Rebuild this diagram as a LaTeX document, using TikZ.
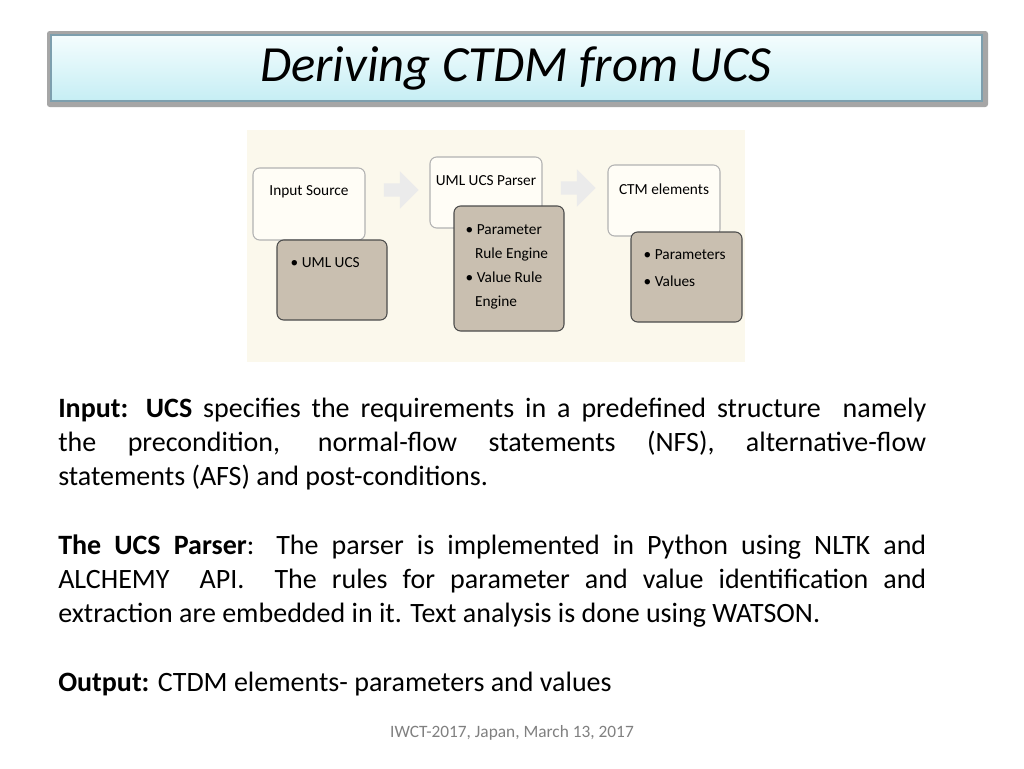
\documentclass[tikz,border=0pt]{standalone}
\usepackage{fontspec}
\setmainfont{Carlito}
\usetikzlibrary{shapes.arrows}
\definecolor{panel}{HTML}{FBF8EC}
\definecolor{topbox}{HTML}{FFFDF6}
\definecolor{subbox}{HTML}{C9BFB0}
\definecolor{titletop}{HTML}{F4FDFE}
\definecolor{titlebot}{HTML}{C6EEF4}
\begin{document}
\begin{tikzpicture}[x=0.75pt,y=-0.75pt]
    \tikzset{style={align=left}};
    \tikzset{upper/.style={draw=gray!60,fill=topbox,rounded corners=5pt,line width=0.8pt}};
    \tikzset{lower/.style={draw=black!70,fill=subbox,rounded corners=5pt,line width=0.8pt}};
    \tikzset{flow/.style={single arrow,fill=black!8,draw=none,minimum height=26pt,minimum width=28pt,single arrow head extend=4pt,inner sep=2pt}};
    \tikzset{small/.style={font=\fontsize{11.5pt}{17pt}\selectfont}};
    \tikzset{para/.style={anchor=north west,text width=651pt,align=justify,font=\fontsize{21pt}{25.5pt}\selectfont,inner sep=0pt}};
    \useasboundingbox (0,0) rectangle (1024,768);
    \fill[white] (0,0) rectangle (1024,768);
    % title bar
    \fill[black!35,rounded corners=2pt] (47,31) rectangle (988,107);
    \shade[top color=titletop,bottom color=titlebot,draw=gray!70!cyan,line width=1.5pt] (51,35) rectangle (982,101);
    \node[font=\fontsize{38pt}{40pt}\selectfont\itshape] (title) at (516,68) {Deriving CTDM from UCS};
    % diagram
    \fill[panel] (247,130) rectangle (745,362);
    \draw[upper] (253,168) rectangle (365,240);
    \node[small] (src) at (309,192) {Input Source};
    \draw[lower] (277,240) rectangle (387,320);
    \node[small,anchor=north west] (uml) at (286,253) {• UML UCS};
    \node[flow] (arr1) at (398,190) {};
    \draw[upper] (430,157) rectangle (542,228);
    \node[small] (parser) at (486,181) {UML UCS Parser};
    \draw[lower] (454,206) rectangle (564,331);
    \node[small,font=\fontsize{11.5pt}{18pt}\selectfont,anchor=north west] (engine) at (461,220) {• Parameter\\\hspace{7pt}Rule Engine\\• Value Rule\\\hspace{7pt}Engine};
    \node[flow] (arr2) at (575,188) {};
    \draw[upper] (608,165) rectangle (720,236);
    \node[small] (ctm) at (664,189) {CTM elements};
    \draw[lower] (631,232) rectangle (742,322);
    \node[small,font=\fontsize{11.5pt}{20pt}\selectfont,anchor=north west] (vals) at (639,245) {• Parameters\\• Values};
    % text
    \node[para] (input) at (58,398) {\textbf{Input: UCS} specifies the requirements in a predefined structure~ namely\linebreak the precondition, normal-flow statements (NFS), alternative-flow\linebreak statements (AFS) and post-conditions.};
    \node[para] (parse) at (58,535) {\textbf{The UCS Parser}: The parser is implemented in Python using NLTK and\linebreak ALCHEMY~ API.~ The rules for parameter and value identification and\linebreak extraction are embedded in it. Text analysis is done using WATSON.};
    \node[para] (out) at (58,672) {\textbf{Output:} CTDM elements- parameters and values};
    \node[font=\fontsize{13pt}{15pt}\selectfont,text=gray] (foot) at (512,733) {IWCT-2017, Japan, March 13, 2017};
\end{tikzpicture}
\end{document}
